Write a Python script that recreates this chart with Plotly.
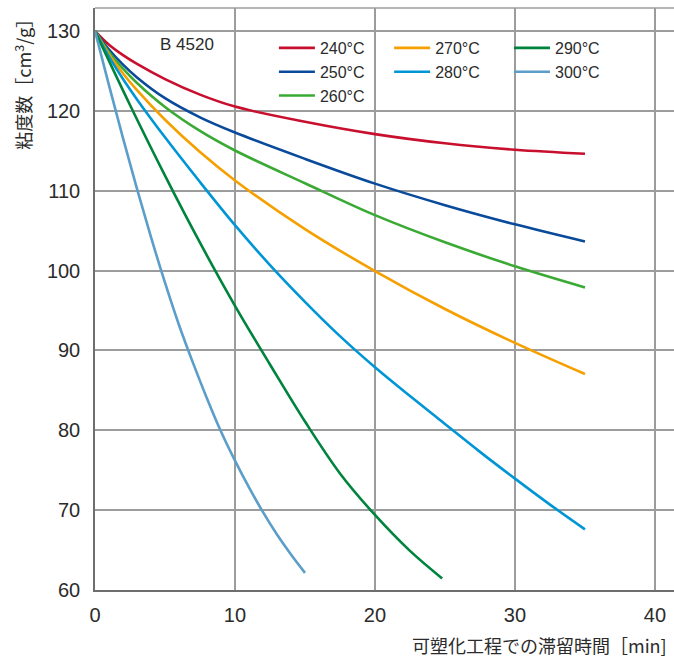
import plotly.graph_objects as go

# Viscosity number of B 4520 vs. residence time in the plasticizing unit
labels = ["240°C", "250°C", "260°C", "270°C", "280°C", "290°C", "300°C"]
colors = ["#c8102e", "#0a4a9a", "#3aaa35", "#f5a000", "#0096d6", "#00843d", "#5b9ec9"]

t_240 = [0, 1, 2, 3, 5, 7.5, 10, 15, 20, 25, 30, 35]
vn_240 = [130, 128.3, 127.0, 125.9, 124.0, 122.05, 120.55, 118.65, 117.1, 115.95, 115.15, 114.65]

t_250 = [0, 1, 2, 3, 5, 7.5, 10, 15, 20, 25, 30, 35]
vn_250 = [130, 127.7, 125.8, 124.2, 121.6, 119.2, 117.3, 114.0, 110.9, 108.2, 105.8, 103.65]

t_260 = [0, 1, 2, 3, 5, 7.5, 10, 15, 20, 25, 30, 35]
vn_260 = [130, 127.4, 125.3, 123.5, 120.5, 117.5, 115.05, 110.95, 106.95, 103.55, 100.55, 97.9]

t_270 = [0, 1, 2, 3, 5, 7.5, 10, 15, 20, 25, 30, 35]
vn_270 = [130, 127.1, 124.7, 122.6, 118.9, 114.85, 111.3, 105.2, 99.95, 95.2, 90.95, 87.05]

t_280 = [0, 1, 2, 3, 5, 7.5, 10, 12.5, 15, 17.5, 20, 22.5, 25, 27.5, 30, 32.5, 35]
vn_280 = [130, 126.8, 124.0, 121.45, 116.7, 111.1, 105.7, 100.7, 96.1, 91.8, 87.9, 84.3,
          80.8, 77.3, 73.95, 70.7, 67.6]

t_290 = [0, 2.5, 5, 7.5, 10, 12.5, 15, 17.5, 20, 22.5, 24.8]
vn_290 = [130, 120.75, 111.9, 103.5, 95.6, 88.25, 81.1, 74.6, 69.4, 64.9, 61.45]

t_300 = [0, 1, 2, 3, 4, 5, 6, 7, 8, 9, 10, 11, 12, 13, 14, 15]
vn_300 = [130, 123.2, 116.6, 110.25, 104.2, 98.5, 93.2, 88.45, 84.0, 79.85, 76.2, 72.85,
          69.75, 66.95, 64.45, 62.15]

times = [t_240, t_250, t_260, t_270, t_280, t_290, t_300]
values = [vn_240, vn_250, vn_260, vn_270, vn_280, vn_290, vn_300]
legend_ids = ["legend", "legend", "legend", "legend2", "legend2", "legend3", "legend3"]

TEXT = "#2b2b2b"
GRID = "#9c9c9c"
NUM_FONT = "Liberation Sans, Arial, sans-serif"
CJK_FONT = "Noto Sans CJK JP, sans-serif"

fig = go.Figure()
for t, v, name, col, lg in zip(times, values, labels, colors, legend_ids):
    fig.add_trace(go.Scatter(
        x=t, y=v, name=name, mode="lines",
        line=dict(color=col, width=2.6, shape="spline", smoothing=1.0),
        legend=lg,
    ))

legend_style = dict(
    bgcolor="rgba(0,0,0,0)", borderwidth=0,
    font=dict(family=NUM_FONT, size=16, color=TEXT),
    orientation="v", xanchor="left", yanchor="top",
    tracegroupgap=0, itemwidth=36,
)

fig.update_layout(
    width=674, height=659,
    margin=dict(l=95, r=0, t=8, b=69),
    paper_bgcolor="white", plot_bgcolor="white",
    showlegend=True,
    legend=dict(x=0.309, y=0.9605, **legend_style),
    legend2=dict(x=0.508, y=0.9605, **legend_style),
    legend3=dict(x=0.715, y=0.9605, **legend_style),
    xaxis=dict(
        range=[0, 41.36], tickvals=[0, 10, 20, 30, 40],
        showgrid=True, gridcolor=GRID, gridwidth=1.5,
        zeroline=False, showline=True, linecolor="#6e6e6e", linewidth=1.5,
        ticks="", ticklabelstandoff=6,
        tickfont=dict(family=NUM_FONT, size=20, color=TEXT),
    ),
    yaxis=dict(
        range=[60, 132.9], tickvals=[60, 70, 80, 90, 100, 110, 120, 130],
        showgrid=True, gridcolor=GRID, gridwidth=1.5,
        zeroline=False, showline=True, linecolor="#6e6e6e", linewidth=1.5,
        ticks="", ticklabelstandoff=9,
        tickfont=dict(family=NUM_FONT, size=20, color=TEXT),
    ),
)

# top frame line
fig.add_shape(type="line", xref="paper", yref="paper", x0=0, x1=1, y0=1, y1=1,
              line=dict(color=GRID, width=1.5))

# grade label inside the plot
fig.add_annotation(x=6.6, y=128.3, xref="x", yref="y", text="B 4520", showarrow=False,
                   font=dict(family=NUM_FONT, size=17, color=TEXT))

# y-axis title, placed at the top of the left margin
fig.add_annotation(x=-0.125, y=1.0, xref="paper", yref="paper",
                   text="粘度数［cm<sup>3</sup>/g］", textangle=-90, showarrow=False,
                   xanchor="center", yanchor="top",
                   font=dict(family=CJK_FONT, size=18, color=TEXT))

# x-axis title under the plot, right aligned near the figure edge
fig.add_annotation(x=0.992, y=-0.0945, xref="paper", yref="paper",
                   text="可塑化工程での滞留時間［min]", showarrow=False,
                   xanchor="right", yanchor="middle",
                   font=dict(family=CJK_FONT, size=18, color=TEXT))

fig.write_html("out.html")
